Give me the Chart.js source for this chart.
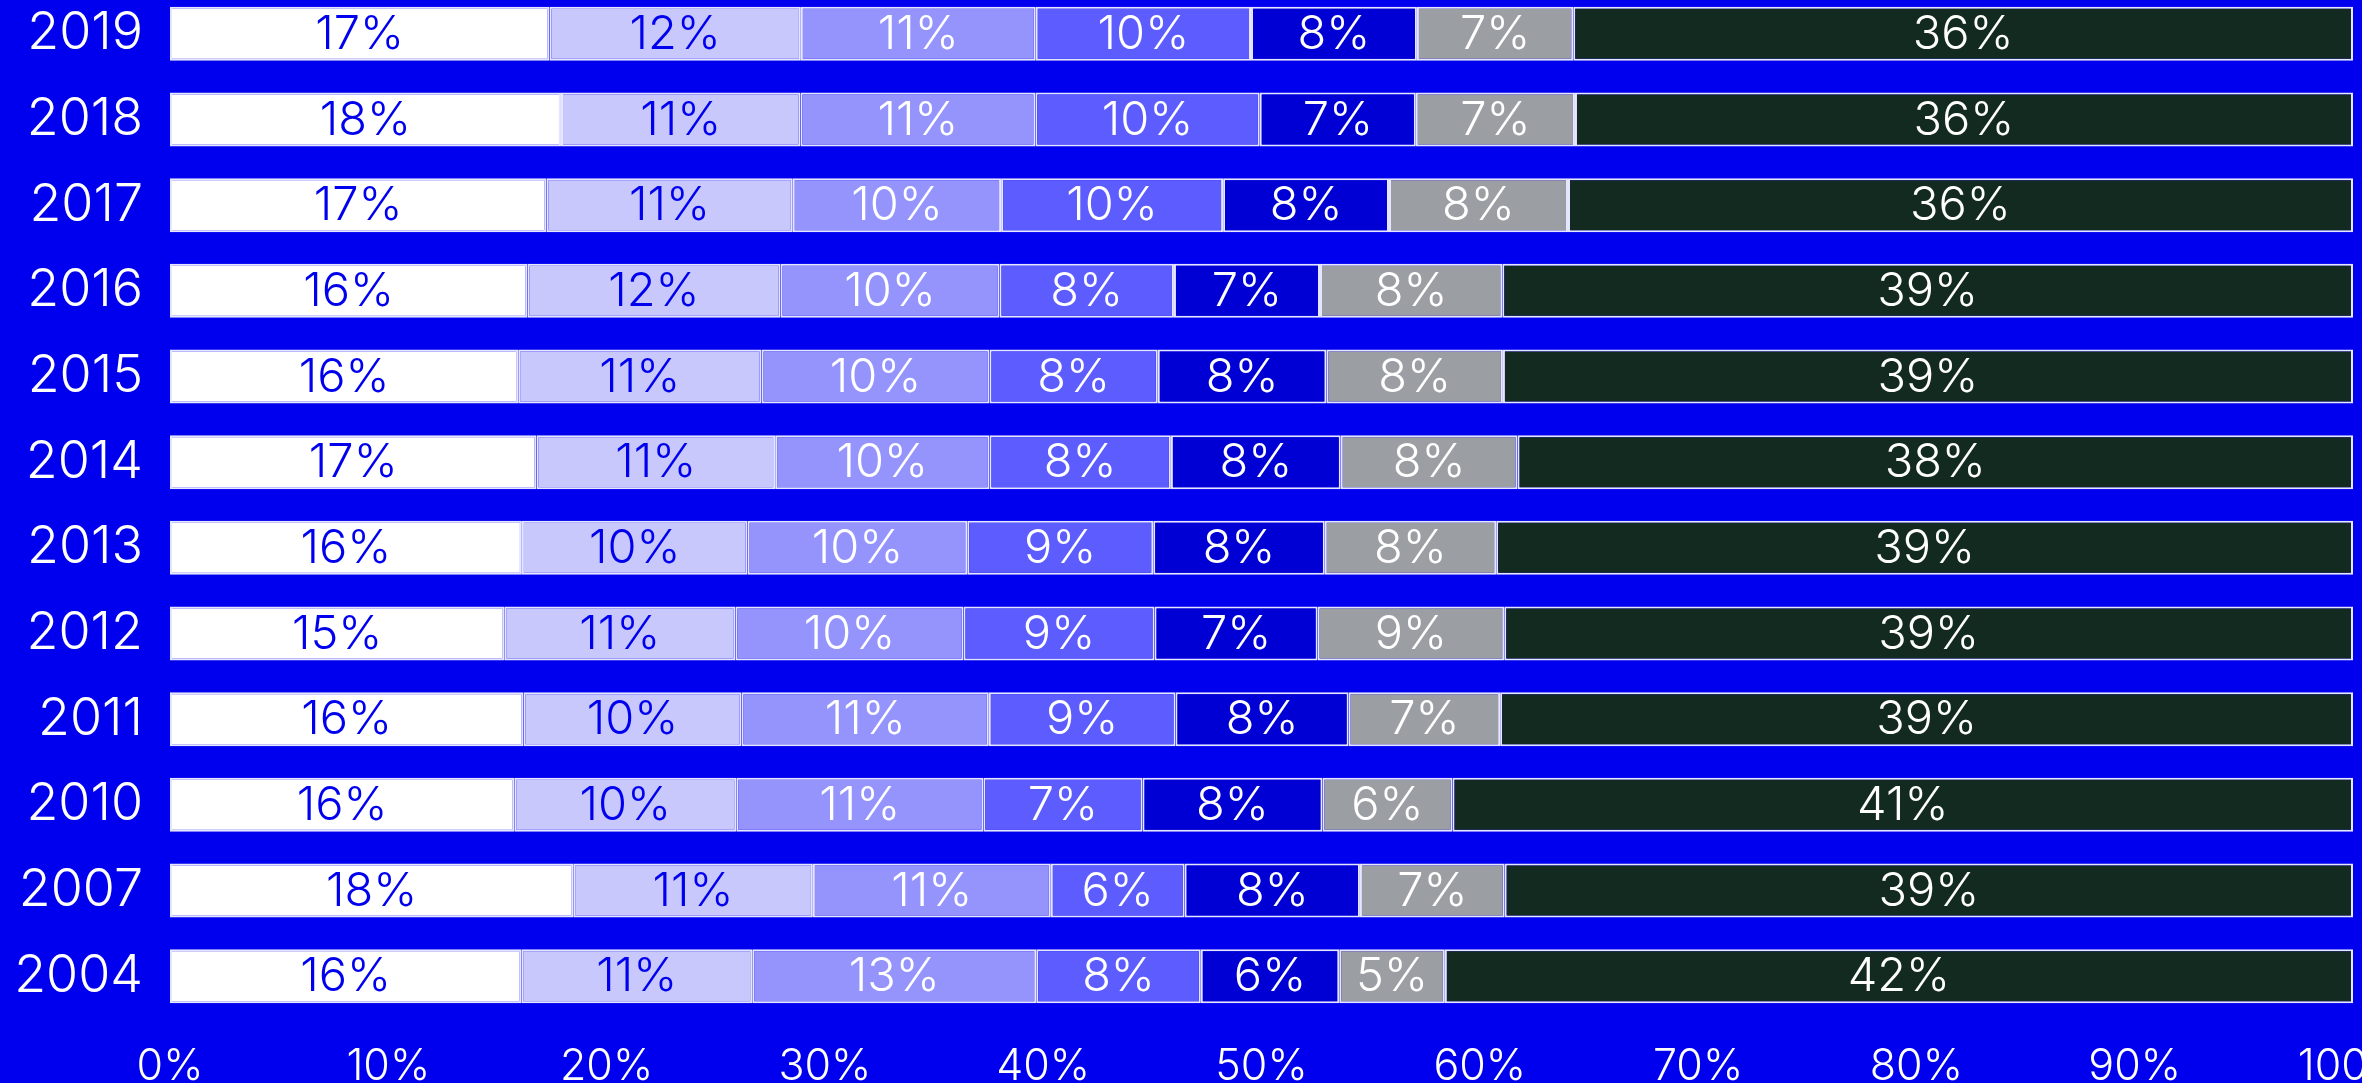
<!DOCTYPE html>
<html lang="en">
<head>
  <meta charset="UTF-8" />
  <title>Share by year</title>
  <style>
    html, body {
      margin: 0;
      padding: 0;
      background: #0000ee;
      overflow: hidden;
    }
    .chart-wrap {
      position: absolute;
      left: 0;
      top: -9px;
      width: 2362px;
      height: 1092px;
    }
  </style>
  <script src="https://cdn.jsdelivr.net/npm/chart.js"></script>
</head>
<body>
  <div class="chart-wrap">
    <canvas id="shareChart"></canvas>
  </div>

  <script>
    const years = ["2019", "2018", "2017", "2016", "2015", "2014", "2013", "2012", "2011", "2010", "2007", "2004"];

    // shares per segment, one value per year (top to bottom)
    const seg1 = [17.38, 17.91, 17.24, 16.37, 15.95, 16.79, 16.12, 15.31, 16.19, 15.77, 18.47, 16.09];
    const seg2 = [11.52, 10.97, 11.29, 11.60, 11.15, 10.93, 10.34, 10.59, 9.99, 10.17, 10.98, 10.58];
    const seg3 = [10.76, 10.76, 9.54, 10.03, 10.44, 9.82, 10.06, 10.45, 11.33, 11.32, 10.90, 13.01];
    const seg4 = [9.86, 10.28, 10.17, 7.99, 7.71, 8.31, 8.52, 8.75, 8.55, 7.29, 6.13, 7.54];
    const seg5 = [7.60, 7.15, 7.60, 6.69, 7.72, 7.78, 7.86, 7.47, 7.93, 8.24, 8.03, 6.34];
    const seg6 = [7.16, 7.29, 8.20, 8.35, 8.09, 8.10, 7.85, 8.55, 6.94, 5.96, 6.63, 4.84];
    const seg7 = [35.72, 35.64, 35.96, 38.97, 38.94, 38.27, 39.25, 38.88, 39.07, 41.25, 38.86, 41.60];

    const segColors = ["#ffffff", "#c8c8fc", "#9494fc", "#5c5cff", "#0000d4", "#9b9ea2", "#132a20"];
    const labelColors = ["#0000ee", "#0000ee", "#ffffff", "#ffffff", "#ffffff", "#ffffff", "#ffffff"];

    const fontFamily = "Inter, 'Open Sans', sans-serif";

    // draws the rounded % in the middle of every segment
    const segmentLabels = {
      id: "segmentLabels",
      afterDatasetsDraw(chart) {
        const ctx = chart.ctx;
        ctx.save();
        ctx.font = "300 47px " + fontFamily;
        ctx.textAlign = "center";
        ctx.textBaseline = "middle";
        chart.data.datasets.forEach((ds, i) => {
          const meta = chart.getDatasetMeta(i);
          meta.data.forEach((bar, j) => {
            const p = bar.getCenterPoint();
            ctx.fillStyle = labelColors[i];
            ctx.fillText(Math.round(ds.data[j]) + "%", p.x, p.y + 1);
          });
        });
        ctx.restore();
      }
    };

    const allSegs = [seg1, seg2, seg3, seg4, seg5, seg6, seg7];

    new Chart(document.getElementById("shareChart"), {
      type: "bar",
      data: {
        labels: years,
        datasets: allSegs.map((vals, i) => ({
          label: "Segment " + (i + 1),
          data: vals,
          backgroundColor: segColors[i],
          borderColor: "rgba(255,255,255,0.9)",
          borderWidth: 2,
          borderSkipped: false,
          barPercentage: 0.63,
          categoryPercentage: 1
        }))
      },
      options: {
        indexAxis: "y",
        responsive: true,
        maintainAspectRatio: false,
        animation: false,
        layout: { padding: { left: 0, right: 9, top: 0, bottom: 0 } },
        plugins: {
          legend: { display: false },
          tooltip: { enabled: false }
        },
        scales: {
          x: {
            stacked: true,
            min: 0,
            max: 100,
            grid: { display: false, drawTicks: false },
            border: { display: false },
            ticks: {
              stepSize: 10,
              color: "#ffffff",
              padding: 22,
              maxRotation: 0,
              autoSkip: false,
              font: { family: fontFamily, size: 43, weight: "300" },
              callback: v => v + "%"
            },
            afterFit(scale) {
              scale.paddingLeft = 0;
              scale.paddingRight = 0;
              scale.paddingTop = 0;
              scale.paddingBottom = 0;
              scale.height = 64;
            }
          },
          y: {
            stacked: true,
            grid: { display: false, drawTicks: false },
            border: { display: false },
            ticks: {
              color: "#ffffff",
              padding: 27,
              font: { family: fontFamily, size: 52, weight: "300" }
            },
            afterFit(scale) {
              scale.paddingLeft = 0;
              scale.paddingRight = 0;
              scale.paddingTop = 0;
              scale.paddingBottom = 0;
              scale.width = 170;
            }
          }
        }
      },
      plugins: [segmentLabels]
    });
  </script>
</body>
</html>
